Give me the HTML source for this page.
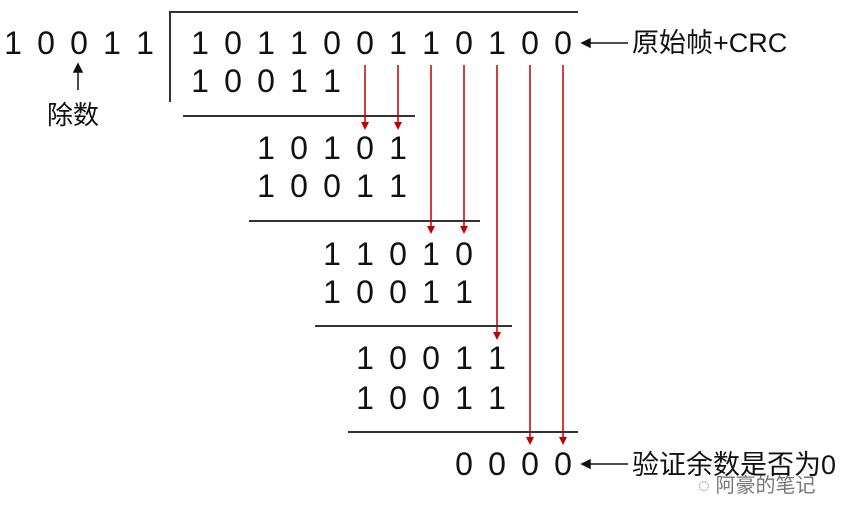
<!DOCTYPE html>
<html><head><meta charset="utf-8"><style>
body{margin:0;background:#fff;}
svg{display:block}
text{font-family:"Liberation Sans","Noto Sans CJK SC",sans-serif;font-size:32px;fill:#111;text-anchor:middle}
.cn{font-size:27px;text-anchor:start}
</style></head><body>
<svg width="853" height="520" viewBox="0 0 853 520" xmlns="http://www.w3.org/2000/svg">
<g stroke="#333" stroke-width="2" fill="none">
<path d="M170,102 V12 H578"/>
<path d="M183,116 H415"/>
<path d="M249,221 H480"/>
<path d="M315,326 H512"/>
<path d="M348,432 H578"/>
</g>
<g stroke="#c00000" stroke-width="1.5">
<line x1="365" y1="65" x2="365" y2="124"/>
<line x1="398" y1="65" x2="398" y2="124"/>
<line x1="431" y1="65" x2="431" y2="228"/>
<line x1="464" y1="65" x2="464" y2="228"/>
<line x1="497" y1="65" x2="497" y2="334"/>
<line x1="530" y1="65" x2="530" y2="439"/>
<line x1="563" y1="65" x2="563" y2="439"/>
</g>
<g fill="#c00000">
<path d="M361,122 L369,122 L365,130z"/>
<path d="M394,122 L402,122 L398,130z"/>
<path d="M427,226 L435,226 L431,234z"/>
<path d="M460,226 L468,226 L464,234z"/>
<path d="M493,332 L501,332 L497,340z"/>
<path d="M526,437 L534,437 L530,445z"/>
<path d="M559,437 L567,437 L563,445z"/>
</g>
<g stroke="#111" stroke-width="1.5" fill="#111">
<line x1="78" y1="90" x2="78" y2="70"/><path d="M74,72 L78,64 L82,72z"/>
<line x1="628" y1="43" x2="588" y2="43"/><path d="M590,39 L582,43 L590,47z"/>
<line x1="628" y1="464" x2="588" y2="464"/><path d="M590,460 L582,464 L590,468z"/>
</g>
<g>
<text x="13" y="54">1</text><text x="46" y="54">0</text><text x="79" y="54">0</text><text x="112" y="54">1</text><text x="145" y="54">1</text>
<text x="200" y="54">1</text><text x="233" y="54">0</text><text x="266" y="54">1</text><text x="299" y="54">1</text><text x="332" y="54">0</text><text x="365" y="54">0</text><text x="398" y="54">1</text><text x="431" y="54">1</text><text x="464" y="54">0</text><text x="497" y="54">1</text><text x="530" y="54">0</text><text x="563" y="54">0</text>
<text x="200" y="92">1</text><text x="233" y="92">0</text><text x="266" y="92">0</text><text x="299" y="92">1</text><text x="332" y="92">1</text>
<text x="266" y="159">1</text><text x="299" y="159">0</text><text x="332" y="159">1</text><text x="365" y="159">0</text><text x="398" y="159">1</text>
<text x="266" y="197">1</text><text x="299" y="197">0</text><text x="332" y="197">0</text><text x="365" y="197">1</text><text x="398" y="197">1</text>
<text x="332" y="265">1</text><text x="365" y="265">1</text><text x="398" y="265">0</text><text x="431" y="265">1</text><text x="464" y="265">0</text>
<text x="332" y="303">1</text><text x="365" y="303">0</text><text x="398" y="303">0</text><text x="431" y="303">1</text><text x="464" y="303">1</text>
<text x="365" y="369">1</text><text x="398" y="369">0</text><text x="431" y="369">0</text><text x="464" y="369">1</text><text x="497" y="369">1</text>
<text x="365" y="409">1</text><text x="398" y="409">0</text><text x="431" y="409">0</text><text x="464" y="409">1</text><text x="497" y="409">1</text>
<text x="464" y="475">0</text><text x="497" y="475">0</text><text x="530" y="475">0</text><text x="563" y="475">0</text>
</g>
<text class="cn" x="47" y="124" style="font-size:26px">除数</text>
<text class="cn" x="632" y="52">原始帧+CRC</text>
<text class="cn" x="632" y="474">验证余数是否为0</text>
<text class="cn" x="698" y="492" style="font-size:20px;fill:#777">◌ 阿豪的笔记</text>
</svg>
</body></html>
